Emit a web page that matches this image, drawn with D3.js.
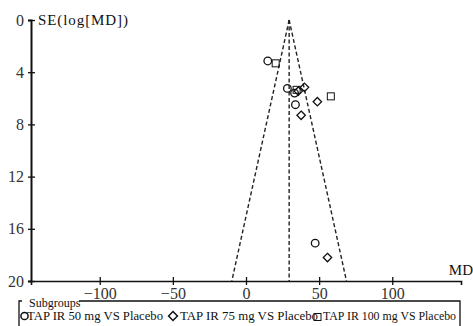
<!DOCTYPE html>
<html>
<head>
<meta charset="utf-8">
<script src="https://cdn.jsdelivr.net/npm/d3@7"></script>
<style>
  body { margin: 0; background: #fff; }
  text { font-family: "Liberation Serif", "Times New Roman", serif; }
</style>
</head>
<body>
<div id="chart"></div>
<script>
// Study points: MD and SE
const md50 = [14.9, 28.3, 33.2, 33.8, 47.3];
const se50 = [3.14, 5.24, 5.6, 6.49, 17.1];
const md75 = [40.0, 35.8, 48.8, 37.7, 55.7];
const se75 = [5.16, 5.45, 6.26, 7.3, 18.2];
const md100 = [20.3, 34.6, 58.0];
const se100 = [3.32, 5.35, 5.85];

const pooledMD = 29.5;
const xTicks = [-100, -50, 0, 50, 100];
const yTicks = [0, 4, 8, 12, 16, 20];
const groupNames = ["TAP IR 50 mg VS Placebo", "TAP IR 75 mg VS Placebo", "TAP IR 100 mg VS Placebo"];

const W = 473, H = 326;
const svg = d3.select("#chart").append("svg")
  .attr("width", W)
  .attr("height", H);

// Scales
const x = d3.scaleLinear().domain([-147, 147]).range([31, 461]);
const y = d3.scaleLinear().domain([0, 20]).range([20, 281]);

// Funnel (pseudo 95% limits) and pooled line
const funnel = svg.append("g")
  .attr("fill", "none")
  .attr("stroke", "#222")
  .attr("stroke-width", 1.4)
  .attr("stroke-dasharray", "4,2.5");

const line = d3.line().x(d => x(d[0])).y(d => y(d[1]));
funnel.append("path").attr("d", line([[pooledMD, 0], [pooledMD - 1.96 * 20, 20]]));
funnel.append("path").attr("d", line([[pooledMD, 0], [pooledMD + 1.96 * 20, 20]]));
funnel.append("path").attr("d", line([[pooledMD, 0], [pooledMD, 20]]));

// X axis
const xAxis = svg.append("g")
  .attr("transform", `translate(0,${y(20)})`)
  .call(d3.axisBottom(x).tickValues(xTicks).tickSizeOuter(0).tickSize(4));
xAxis.select(".domain").attr("stroke", "#111").attr("stroke-width", 1.6);
xAxis.selectAll(".tick line").attr("y1", -4).attr("y2", 4).attr("stroke", "#111").attr("stroke-width", 1.3);
xAxis.selectAll(".tick text")
  .attr("y", 18).attr("dy", 0)
  .attr("fill", "#333")
  .style("font-size", "16px")
  .style("font-family", "Liberation Serif, serif");

// Y axis
const yAxis = svg.append("g")
  .attr("transform", `translate(${x(-147)},0)`)
  .call(d3.axisLeft(y).tickValues(yTicks).tickSizeOuter(0).tickSize(3));
yAxis.select(".domain").attr("stroke", "#111").attr("stroke-width", 2);
yAxis.selectAll(".tick line").attr("x1", -3).attr("x2", 4).attr("stroke", "#111").attr("stroke-width", 1.3);
yAxis.selectAll(".tick text")
  .attr("x", -7)
  .attr("fill", "#333")
  .style("font-size", "16px")
  .style("font-family", "Liberation Serif, serif");

// Axis titles
svg.append("text")
  .attr("x", 38)
  .attr("y", 25)
  .attr("textLength", 90)
  .attr("lengthAdjust", "spacing")
  .style("font-size", "15px")
  .attr("fill", "#111")
  .text("SE(log[MD])");

svg.append("text")
  .attr("x", 473)
  .attr("y", 275)
  .attr("text-anchor", "end")
  .style("font-size", "15px")
  .attr("fill", "#111")
  .text("MD");

// Markers
const marks = svg.append("g")
  .attr("fill", "none")
  .attr("stroke", "#111")
  .attr("stroke-width", 1.3);

marks.selectAll(".c50")
  .data(md50.map((d, i) => [d, se50[i]]))
  .enter().append("circle")
    .attr("class", "c50")
    .attr("cx", d => x(d[0]))
    .attr("cy", d => y(d[1]))
    .attr("r", 3.8);

marks.selectAll(".d75")
  .data(md75.map((d, i) => [d, se75[i]]))
  .enter().append("path")
    .attr("class", "d75")
    .attr("d", d3.symbol(d3.symbolDiamond2, 45))
    .attr("transform", d => `translate(${x(d[0])},${y(d[1])})`);

marks.selectAll(".s100")
  .data(md100.map((d, i) => [d, se100[i]]))
  .enter().append("rect")
    .attr("class", "s100")
    .attr("x", d => x(d[0]) - 3.5)
    .attr("y", d => y(d[1]) - 3.5)
    .attr("width", 7)
    .attr("height", 7)
    .attr("stroke-width", 1);

// Legend
const legend = svg.append("g");
legend.append("path")
  .attr("d", "M19,326 V301 H22 M79,301 H460 V326")
  .attr("fill", "none")
  .attr("stroke", "#111")
  .attr("stroke-width", 1.3);

legend.append("text")
  .attr("x", 29)
  .attr("y", 307)
  .style("font-size", "12px")
  .attr("fill", "#111")
  .text("Subgroups");

const legX = [24.5, 173, 317.5];
const legTextX = [27, 180, 323];
const legW = [136, 138, 133];
const ly = 316;

legend.append("circle")
  .attr("cx", legX[0]).attr("cy", ly).attr("r", 3.6)
  .attr("fill", "none").attr("stroke", "#111").attr("stroke-width", 1.5);
legend.append("path")
  .attr("d", d3.symbol(d3.symbolDiamond2, 50))
  .attr("transform", `translate(${legX[1]},${ly})`)
  .attr("fill", "none").attr("stroke", "#111").attr("stroke-width", 1.5);
legend.append("rect")
  .attr("x", legX[2] - 3.5).attr("y", ly - 2.5).attr("width", 7).attr("height", 7)
  .attr("fill", "none").attr("stroke", "#111").attr("stroke-width", 1);

legend.selectAll(".legtext")
  .data(groupNames)
  .enter().append("text")
    .attr("class", "legtext")
    .attr("x", (d, i) => legTextX[i])
    .attr("y", 320)
    .attr("textLength", (d, i) => legW[i])
    .attr("lengthAdjust", "spacingAndGlyphs")
    .style("font-size", "13px")
    .attr("fill", "#111")
    .text(d => d);
</script>
</body>
</html>
